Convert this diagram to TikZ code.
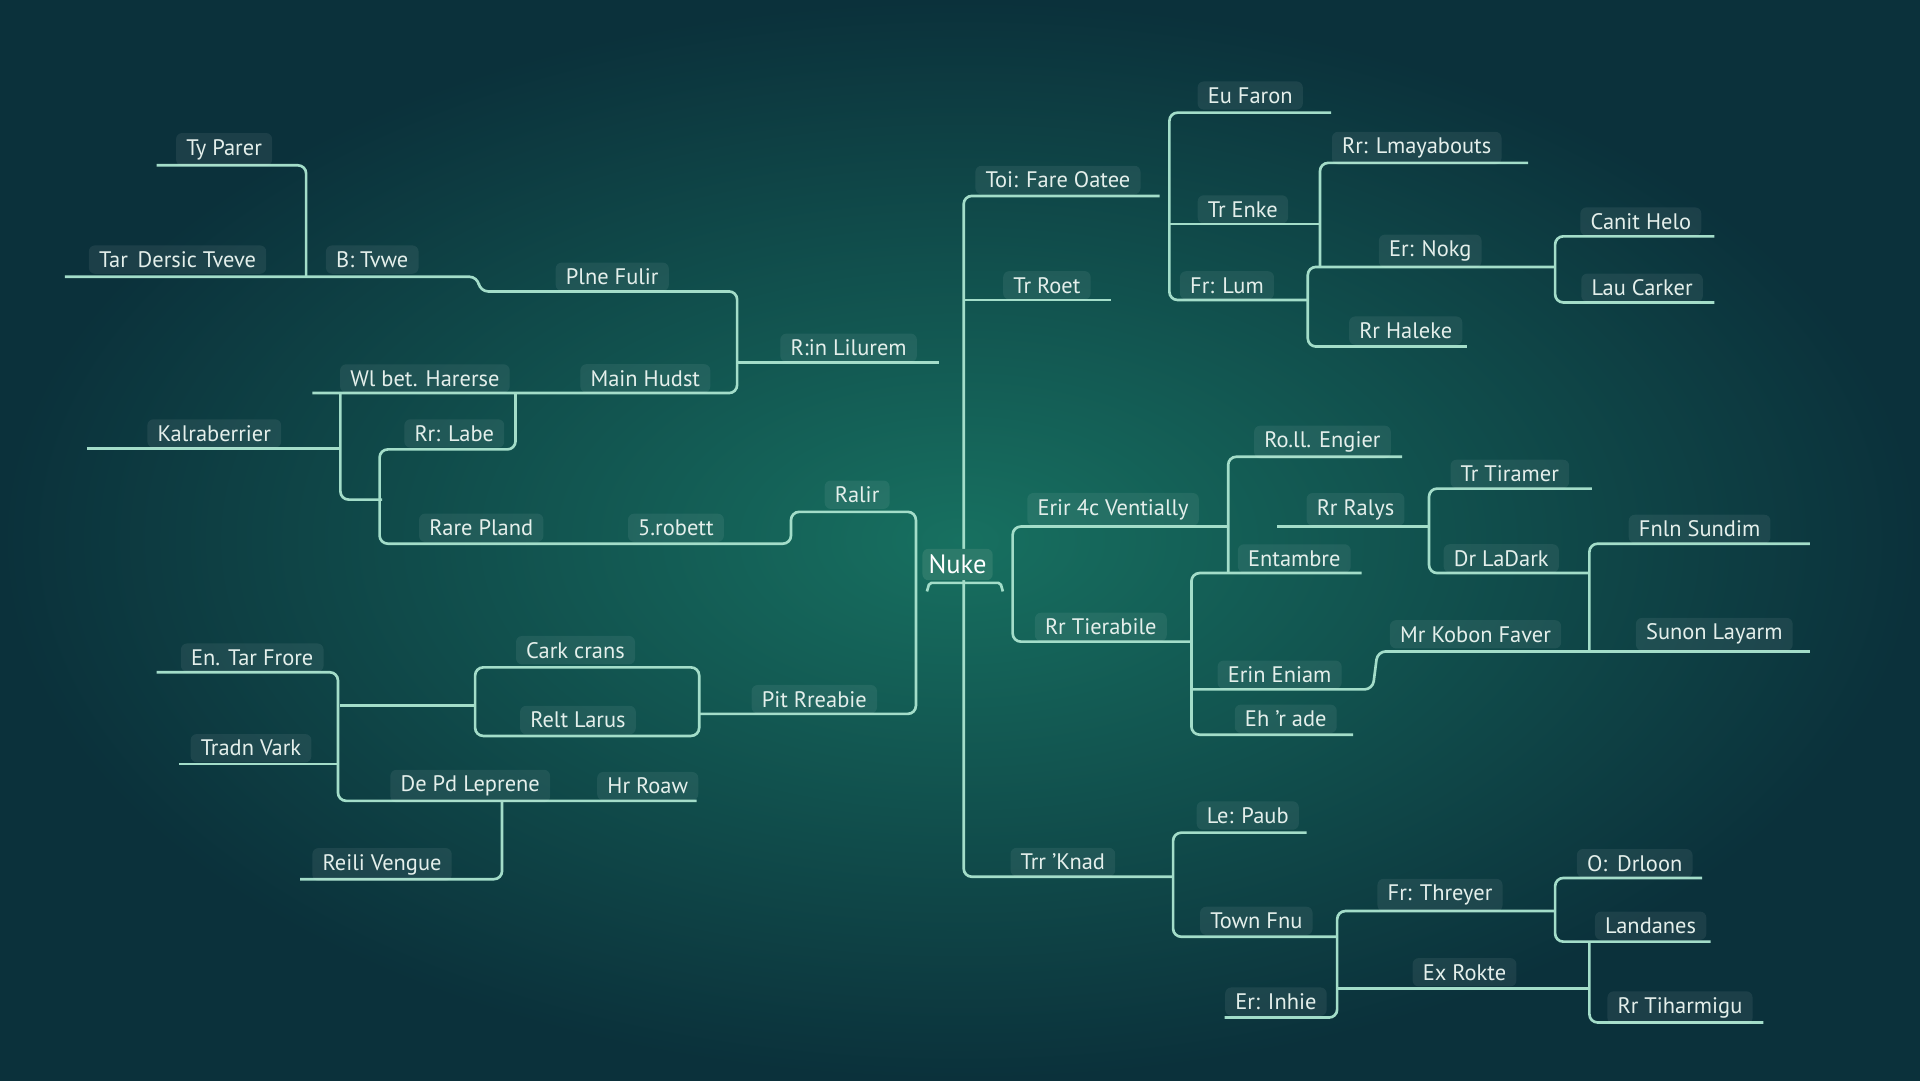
\documentclass[tikz,border=0pt]{standalone}
\usepackage{fontspec}
\setmainfont{PT Sans}
\usepackage{tikz}
\definecolor{bgdark}{HTML}{0B313B}
\definecolor{bglight}{HTML}{177060}
\definecolor{linecol}{HTML}{A3DDC9}
\definecolor{textcol}{HTML}{E4EFEB}
\definecolor{nukefill}{HTML}{2C7A6A}
\tikzset{
	lbl/.style={text=textcol, fill=white, fill opacity=0.07, text opacity=1, rounded corners=3pt, inner xsep=5pt, inner ysep=3pt, font=\fontsize{11}{13}\selectfont},
	link/.style={draw=linecol, line width=1.3pt, rounded corners=4pt},
}
\begin{document}
\begin{tikzpicture}[x=0.6pt, y=-0.6pt]
				\useasboundingbox (0,0) rectangle (1568,882);
				\shade[inner color=bglight, outer color=bgdark] (0,0) rectangle (1568,882);
				% left branch
				\draw[link] (128,135) -- (250,135) -- (250,226);
				\draw[link] (53,226) -- (390,226) -- (392,238) -- (602,238) -- (602,321) -- (255,321);
				\draw[link] (602,296) -- (767,296);
				\draw[link] (278,321) -- (278,408) -- (312,408);
				\draw[link] (421,321) -- (421,367) -- (310,367) -- (310,444) -- (646,444) -- (646,418) -- (748,418) -- (748,583) -- (571,583);
				\draw[link] (71,366) -- (278,366);
				\draw[link] (388,545) rectangle (571,601);
				\draw[link] (278,576) -- (388,576);
				\draw[link] (128,549) -- (276,549) -- (276,654) -- (569,654);
				\draw[link] (146,624) -- (276,624);
				\draw[link] (410,654) -- (410,718) -- (245,718);
				% centre
				\draw[link] (947,160) -- (787,160) -- (787,716) -- (958,716);
				\draw[link] (787,245) -- (907,245);
				\draw[link, rounded corners=1pt] (757,483) -- (759,476) -- (817,476) -- (819,483);
				% right top
				\draw[link] (1087,92) -- (955,92) -- (955,245) -- (1068,245);
				\draw[link] (955,183) -- (1078,183);
				\draw[link] (1248,133) -- (1078,133) -- (1078,218);
				\draw[link] (1270,218) -- (1068,218) -- (1068,283) -- (1198,283);
				\draw[link] (1400,193) -- (1270,193) -- (1270,247) -- (1400,247);
				% right middle
				\draw[link] (1003,430) -- (827,430) -- (827,524) -- (973,524);
				\draw[link] (1145,373) -- (1003,373) -- (1003,468);
				\draw[link] (1112,468) -- (973,468) -- (973,600) -- (1105,600);
				\draw[link] (973,563) -- (1121,563) -- (1125,532) -- (1478,532);
				\draw[link] (1043,430) -- (1167,430);
				\draw[link] (1300,399) -- (1167,399) -- (1167,468) -- (1298,468);
				\draw[link] (1478,444) -- (1298,444) -- (1298,532);
				% right bottom
				\draw[link] (1067,680) -- (958,680) -- (958,765) -- (1092,765);
				\draw[link] (1270,744) -- (1092,744) -- (1092,831) -- (1000,831);
				\draw[link] (1092,807) -- (1298,807);
				\draw[link] (1390,717) -- (1270,717) -- (1270,769) -- (1397,769);
				\draw[link] (1298,769) -- (1298,835) -- (1440,835);
				% labels left
				\node[lbl] (typarer) at (183,122) {Ty Parer};
				\node[lbl] (tardersic) at (145,212) {Tar\, Dersic Tveve};
				\node[lbl] (btvwe) at (304,212) {B: Tvwe};
				\node[lbl] (plnefulir) at (500,226) {Plne Fulir};
				\node[lbl] (rinlilurem) at (693,284) {R:in Lilurem};
				\node[lbl] (wlbet) at (347,309) {Wl bet. Harerse};
				\node[lbl] (mainhudst) at (527,309) {Main Hudst};
				\node[lbl] (kalraberrier) at (175,354) {Kalraberrier};
				\node[lbl] (rrlabe) at (371,354) {Rr: Labe};
				\node[lbl] (rarepland) at (393,431) {Rare Pland};
				\node[lbl] (robett) at (552,431) {5.robett};
				\node[lbl] (ralir) at (700,404) {Ralir};
				\node[lbl] (carkcrans) at (470,531) {Cark crans};
				\node[lbl] (reltlarus) at (472,588) {Relt Larus};
				\node[lbl] (pitrreabie) at (665,571) {Pit Rreabie};
				\node[lbl] (entarfrore) at (206,537) {En. Tar Frore};
				\node[lbl] (tradnvark) at (205,611) {Tradn Vark};
				\node[lbl] (depd) at (384,642) {De Pd Leprene};
				\node[lbl] (hrroaw) at (529,642) {Hr Roaw};
				\node[lbl] (reilivengue) at (312,706) {Reili Vengue};
				% centre node
				\node[lbl, fill=nukefill, fill opacity=1, font=\fontsize{13}{15}\selectfont, text=white, inner xsep=3pt] (nuke) at (782,461) {Nuke};
				% labels right
				\node[lbl] (toifare) at (864,147) {Toi: Fare Oatee};
				\node[lbl] (trroet) at (855,233) {Tr Roet};
				\node[lbl] (trrknad) at (868,704) {Trr 'Knad};
				\node[lbl] (eufaron) at (1021,78) {Eu Faron};
				\node[lbl] (trenke) at (1015,171) {Tr Enke};
				\node[lbl] (frlum) at (1002,233) {Fr: Lum};
				\node[lbl] (rrlmay) at (1157,121) {Rr: Lmayabouts};
				\node[lbl] (ernokg) at (1168,205) {Er: Nokg};
				\node[lbl] (rrhaleke) at (1148,270) {Rr Haleke};
				\node[lbl] (canithelo) at (1340,181) {Canit Helo};
				\node[lbl] (laucarker) at (1341,235) {Lau Carker};
				\node[lbl] (erir) at (909,416) {Erir 4c Ventially};
				\node[lbl] (rrtierabile) at (899,512) {Rr Tierabile};
				\node[lbl] (roll) at (1080,361) {Ro.ll. Engier};
				\node[lbl] (entambre) at (1057,456) {Entambre};
				\node[lbl] (erineniam) at (1045,551) {Erin Eniam};
				\node[lbl] (ehrade) at (1050,587) {Eh 'r ade};
				\node[lbl] (rrralys) at (1107,416) {Rr Ralys};
				\node[lbl] (trtiramer) at (1233,387) {Tr Tiramer};
				\node[lbl] (drladark) at (1226,456) {Dr LaDark};
				\node[lbl] (fnlnsundim) at (1388,432) {Fnln Sundim};
				\node[lbl] (mrkobon) at (1205,518) {Mr Kobon Faver};
				\node[lbl] (sunon) at (1400,518) {Sunon Layarm};
				\node[lbl] (lepaub) at (1019,666) {Le: Paub};
				\node[lbl] (townfnu) at (1026,752) {Town Fnu};
				\node[lbl] (frthreyer) at (1176,731) {Fr: Threyer};
				\node[lbl] (erinhie) at (1042,818) {Er: Inhie};
				\node[lbl] (exrokte) at (1196,794) {Ex Rokte};
				\node[lbl] (odrloon) at (1335,705) {O:\, Drloon};
				\node[lbl] (landanes) at (1348,756) {Landanes};
				\node[lbl] (rrtiharmigu) at (1372,823) {Rr Tiharmigu};
\end{tikzpicture}
\end{document}
